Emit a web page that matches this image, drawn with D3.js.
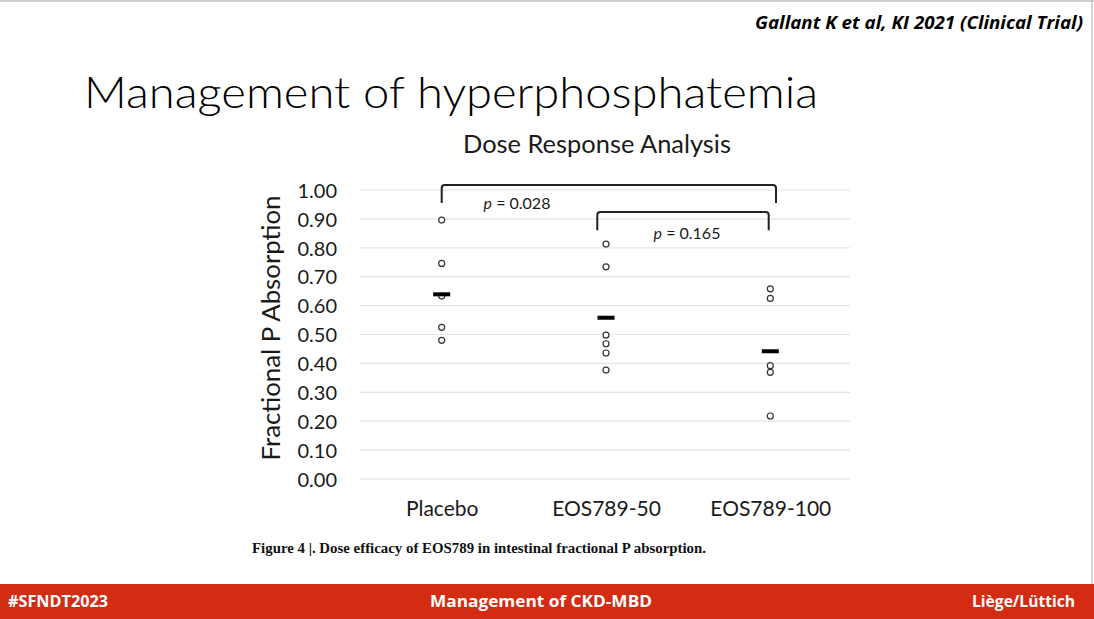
<!DOCTYPE html>
<html><head><meta charset="utf-8">
<script src="https://cdn.jsdelivr.net/npm/d3@7"></script>
<style>
html,body{margin:0;padding:0;background:#fff;}
svg{display:block;}
</style></head>
<body>
<svg id="c" width="1094" height="619"></svg>
<script>
const categories = ["Placebo", "EOS789-50", "EOS789-100"];
const placeboValues = [0.896, 0.746, 0.633, 0.525, 0.480];
const eos50Values = [0.813, 0.734, 0.498, 0.468, 0.436, 0.377];
const eos100Values = [0.658, 0.625, 0.392, 0.369, 0.218];
const meanValues = [0.639, 0.558, 0.442];
const yTicks = [0, 0.1, 0.2, 0.3, 0.4, 0.5, 0.6, 0.7, 0.8, 0.9, 1.0];
const brackets = [
  {from: "Placebo", to: "EOS789-100", label: "0.028", top: 1.017, leg: 0.955},
  {from: "EOS789-50", to: "EOS789-100", label: "0.165", top: 0.924, leg: 0.861}
];

const svg = d3.select("#c");
const F = "Lato, 'Open Sans', sans-serif";

// slide borders
svg.append("line").attr("x1",0).attr("x2",1094).attr("y1",1).attr("y2",1).attr("stroke","#d0d0d0").attr("stroke-width",2);
svg.append("line").attr("x1",1092).attr("x2",1092).attr("y1",0).attr("y2",584).attr("stroke","#c8c8c8").attr("stroke-width",1.5);

// header citation
svg.append("text").attr("x",1083).attr("y",29).attr("text-anchor","end")
  .attr("font-family","'Open Sans', sans-serif").attr("font-weight",700).attr("font-style","italic")
  .attr("font-size",17.5).attr("textLength",328).attr("lengthAdjust","spacingAndGlyphs")
  .attr("fill","#000").text("Gallant K et al, KI 2021 (Clinical Trial)");

// title
svg.append("text").attr("x",84).attr("y",108)
  .attr("font-family",F).attr("font-weight",300).attr("font-size",43)
  .attr("textLength",734).attr("lengthAdjust","spacingAndGlyphs")
  .attr("fill","#000").text("Management of hyperphosphatemia");

// chart
const x = d3.scalePoint().domain(categories).range([441.7, 770.3]);
const y = d3.scaleLinear().domain([0,1]).range([479,190]);
const gx0 = 360, gx1 = 850;

svg.append("text").attr("x",597).attr("y",153).attr("text-anchor","middle")
  .attr("font-family",F).attr("font-size",25).attr("textLength",268).attr("lengthAdjust","spacingAndGlyphs")
  .attr("fill","#1a1a1a").text("Dose Response Analysis");

// gridlines
svg.append("g").selectAll("line").data(yTicks).join("line")
  .attr("x1",gx0).attr("x2",gx1).attr("y1",d=>y(d)).attr("y2",d=>y(d))
  .attr("stroke","#e3e3e3").attr("stroke-width",1.2);

// y axis labels
const yAxis = d3.axisLeft(y).tickValues(yTicks).tickFormat(d3.format(".2f")).tickSize(0).tickPadding(0);
const ga = svg.append("g").attr("transform","translate(337,0)").call(yAxis);
ga.select(".domain").remove();
ga.selectAll("text").attr("font-family",F).attr("font-size",20).attr("fill","#1a1a1a").attr("dy","0.36em");

// y title
svg.append("text").attr("transform","translate(280,328) rotate(-90)").attr("text-anchor","middle")
  .attr("font-family",F).attr("font-size",25).attr("textLength",265).attr("lengthAdjust","spacingAndGlyphs")
  .attr("fill","#1a1a1a").text("Fractional P Absorption");

// x labels
const xAxis = d3.axisBottom(x).tickSize(0).tickPadding(0);
const gb = svg.append("g").attr("transform","translate(0,516)").call(xAxis);
gb.select(".domain").remove();
gb.selectAll("text").attr("font-family",F).attr("font-size",21).attr("fill","#1a1a1a").attr("dy",0);

// points
const series = [placeboValues, eos50Values, eos100Values];
series.forEach((vals,i)=>{
  svg.append("g").selectAll("circle").data(vals).join("circle")
    .attr("cx",x(categories[i])).attr("cy",d=>y(d)).attr("r",3)
    .attr("fill","#fff").attr("stroke","#333").attr("stroke-width",1.2);
});
// means
svg.append("g").selectAll("rect").data(meanValues).join("rect")
  .attr("x",(d,i)=>x(categories[i])-8.5).attr("y",d=>y(d)-2).attr("width",17).attr("height",4).attr("fill","#000");

// brackets
brackets.forEach((b,i)=>{
  const xa = i===0 ? x(b.from) : x(b.from)-8.7;
  const xb = i===0 ? x(b.to)+5.7 : x(b.to)-1.6;
  const p = d3.path();
  p.moveTo(xa, y(b.leg)); p.lineTo(xa, y(b.top)+3); p.quadraticCurveTo(xa, y(b.top), xa+3, y(b.top));
  p.lineTo(xb-3, y(b.top)); p.quadraticCurveTo(xb, y(b.top), xb, y(b.top)+3); p.lineTo(xb, y(b.leg));
  svg.append("path").attr("d",p.toString()).attr("fill","none").attr("stroke","#222").attr("stroke-width",2);
  const t = svg.append("text").attr("text-anchor","middle")
    .attr("x", i===0 ? 517 : 687).attr("y", i===0 ? 209 : 239)
    .attr("font-family",F).attr("font-size",16).attr("fill","#1a1a1a");
  t.append("tspan").attr("font-style","italic").text("p");
  t.append("tspan").text(" = " + b.label);
});

// caption
svg.append("text").attr("x",252).attr("y",553)
  .attr("font-family","'Liberation Serif', 'Times New Roman', serif").attr("font-weight",700).attr("font-size",14.5)
  .attr("textLength",454).attr("lengthAdjust","spacingAndGlyphs")
  .attr("fill","#111").text("Figure 4 |. Dose efficacy of EOS789 in intestinal fractional P absorption.");

// footer
svg.append("rect").attr("x",0).attr("y",584).attr("width",1094).attr("height",35).attr("fill","#d32c12");
const ff = {"font-family":"'Open Sans', sans-serif","font-weight":700,"font-size":15.5,"fill":"#fff"};
function ft(xp, anchor, txt){
  const t = svg.append("text").attr("x",xp).attr("y",607).attr("text-anchor",anchor).text(txt);
  Object.entries(ff).forEach(([k,v])=>t.attr(k,v));
  return t;
}
ft(8,"start","#SFNDT2023").attr("textLength",100).attr("lengthAdjust","spacingAndGlyphs");
ft(541,"middle","Management of CKD-MBD").attr("textLength",222).attr("lengthAdjust","spacingAndGlyphs");
ft(1075,"end","Liège/Lüttich").attr("textLength",103).attr("lengthAdjust","spacingAndGlyphs");
</script>
</body></html>
